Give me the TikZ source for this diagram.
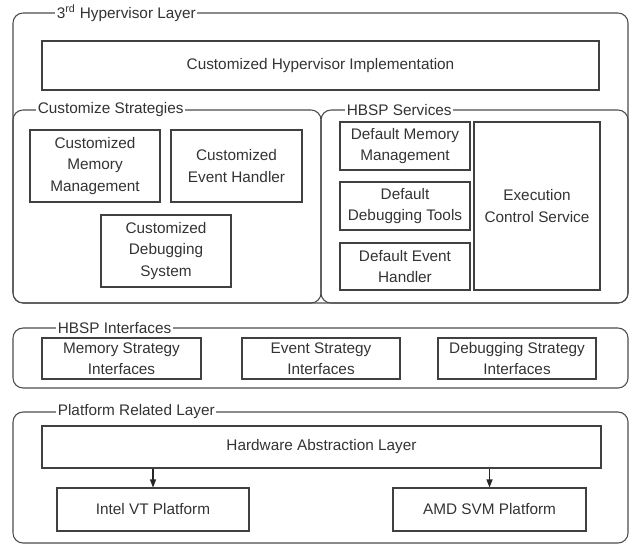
\documentclass[tikz,border=0pt]{standalone}
\usepackage{fontspec}
\setmainfont{Liberation Sans}
\usetikzlibrary{positioning, fit, arrows.meta}

\begin{document}
\begin{tikzpicture}[
    x=0.75pt, y=-0.75pt,
    font=\fontsize{11.5pt}{15.8pt}\selectfont,
    box/.style={rectangle, draw=black!75, line width=0.8pt, inner sep=0pt, align=center, text=black!80},
    sz/.style 2 args={minimum width=#1*0.75pt, minimum height=#2*0.75pt},
    frame/.style={rectangle, rounded corners=7.5pt, draw=black!70, line width=0.8pt, inner sep=0pt},
    grptitle/.style={anchor=west, fill=white, inner xsep=1.2pt, inner ysep=0.5pt, text=black!80},
    arr/.style={-{Triangle[length=6pt, width=4.5pt]}, line width=0.8pt, draw=black!85}
]
\useasboundingbox (0,0) rectangle (638,546);

% 3rd hypervisor layer
\node[frame, fit={(13,13) (628,303)}] (hyper) {};
\node[grptitle] (hyperlbl) at (55,13) {3\textsuperscript{rd} Hypervisor Layer};
\node[box, sz={557}{49}] (impl) at (320.5,65.5) {Customized Hypervisor Implementation};

\node[frame, fit={(13,110) (321,303)}] (custom) {};
\node[grptitle] (customlbl) at (36,110) {Customize Strategies};
\node[box, sz={130}{72}] (cmem) at (95,166) {Customized\\Memory\\Management};
\node[box, sz={131}{72}] (cevt) at (236.5,166) {Customized\\Event Handler};
\node[box, sz={130}{72}] (cdbg) at (166,251) {Customized\\Debugging\\System};

\node[frame, fit={(321,110) (628,303)}] (hbsp) {};
\node[grptitle] (hbsplbl) at (345,110) {HBSP Services};
\node[box, sz={130}{48}] (dmem) at (405,146) {Default Memory\\Management};
\node[box, sz={130}{48}] (ddbg) at (405,206) {Default\\Debugging Tools};
\node[box, sz={130}{47}] (devt) at (405,266.5) {Default Event\\Handler};
\node[box, sz={126}{168}] (exec) at (537,206) {Execution\\Control Service};

% HBSP interfaces
\node[frame, fit={(13,328) (628,388)}] (iface) {};
\node[grptitle] (ifacelbl) at (56,328) {HBSP Interfaces};
\node[box, sz={159}{41}] (imem) at (121.5,358.5) {Memory Strategy\\Interfaces};
\node[box, sz={158}{41}] (ievt) at (321,358.5) {Event Strategy\\Interfaces};
\node[box, sz={158}{41}] (idbg) at (517,358.5) {Debugging Strategy\\Interfaces};

% platform related layer
\node[frame, fit={(13,412) (628,543)}] (plat) {};
\node[grptitle] (platlbl) at (56,412) {Platform Related Layer};
\node[box, sz={559}{42}] (hal) at (321.5,447) {Hardware Abstraction Layer};
\node[box, sz={192}{43}] (intel) at (153,509.5) {Intel VT Platform};
\node[box, sz={193}{43}] (amd) at (489.5,509.5) {AMD SVM Platform};

\draw[arr] (intel.north |- hal.south) -- (intel.north);
\draw[arr] (amd.north |- hal.south) -- (amd.north);

\end{tikzpicture}
\end{document}
